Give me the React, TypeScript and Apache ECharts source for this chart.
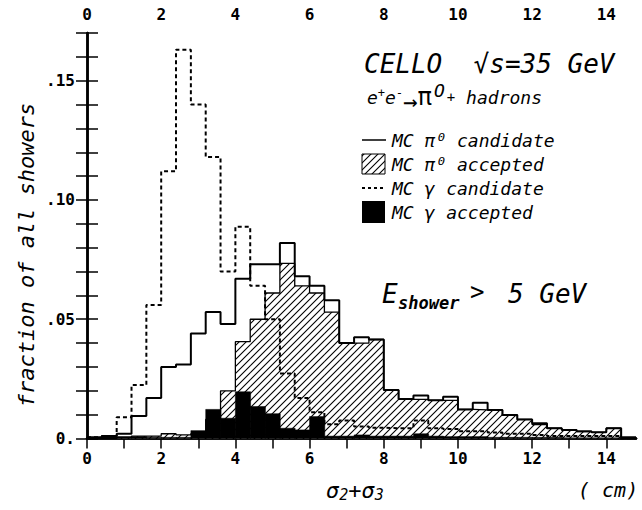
import React, { useEffect, useRef } from 'react';
import * as echarts from 'echarts';

// Bin edges (cm)
const binEdges = [0, 0.4, 0.8, 1.2, 1.6, 2.0, 2.4, 2.8, 3.2, 3.6, 4.0, 4.4, 4.8, 5.2, 5.6, 6.0, 6.4, 6.8, 7.2, 7.6, 8.0, 8.4, 8.8, 9.2, 9.6, 10.0, 10.4, 10.8, 11.2, 11.6, 12.0, 12.4, 12.8, 13.2, 13.6, 14.0, 14.4, 14.8];

// MC pi0 candidate (solid line)
const pi0Candidate = [0.0005, 0.001, 0.002, 0.0094, 0.017, 0.030, 0.031, 0.044, 0.053, 0.048, 0.067, 0.073, 0.073, 0.082, 0.068, 0.064, 0.058, 0.040, 0.0425, 0.0415, 0.0203, 0.0166, 0.018, 0.016, 0.0175, 0.0122, 0.015, 0.012, 0.0099, 0.008, 0.0064, 0.0043, 0.0036, 0.003, 0.0026, 0.0043, 0.0005];

// MC pi0 accepted (hatched)
const pi0Accepted = [0, 0, 0.0005, 0.001, 0.001, 0.002, 0.0015, 0.002, 0.008, 0.020, 0.0406, 0.050, 0.061, 0.0734, 0.064, 0.061, 0.053, 0.040, 0.040, 0.0415, 0.0203, 0.0164, 0.0164, 0.016, 0.016, 0.0122, 0.012, 0.012, 0.0099, 0.008, 0.0058, 0.0043, 0.0036, 0.0029, 0.0026, 0.0043, 0];

// MC gamma candidate (dashed line)
const gammaCandidate = [0.0005, 0.001, 0.0089, 0.0224, 0.056, 0.112, 0.163, 0.140, 0.118, 0.070, 0.0888, 0.064, 0.050, 0.0273, 0.017, 0.011, 0.006, 0.0075, 0.005, 0.0045, 0.0043, 0.0043, 0.0075, 0.0043, 0.004, 0.003, 0.003, 0.0025, 0.002, 0.002, 0.0015, 0.001, 0.001, 0.001, 0.001, 0.001, 0];

// MC gamma accepted (black)
const gammaAccepted = [0.0003, 0.0005, 0.0008, 0.0008, 0.0005, 0.0005, 0.0005, 0.0033, 0.0122, 0.0085, 0.0196, 0.0134, 0.0104, 0.0043, 0.0036, 0.0092, 0.001, 0.001, 0.0015, 0.001, 0.001, 0.001, 0.002, 0.001, 0.0008, 0.0008, 0.0008, 0.0005, 0.0005, 0.0005, 0.0005, 0.0005, 0.0003, 0.0003, 0.0003, 0.0003, 0];

const xTickLabels = ['0', '2', '4', '6', '8', '10', '12', '14'];
const yTickLabels = ['0.', '.05', '.10', '.15'];

const MONO = '"DejaVu Sans Mono", monospace';

function stepPoints(values: number[]) {
  const pts: number[][] = values.map((v, i) => [binEdges[i], v]);
  pts.push([binEdges[values.length], values[values.length - 1]]);
  return pts;
}

function binData(values: number[]) {
  return values.map((v, i) => [binEdges[i], binEdges[i + 1], v]);
}

export default function App() {
  const ref = useRef<HTMLDivElement>(null);
  useEffect(() => {
    document.body.style.margin = '0';
    if (!ref.current) return;
    const chart = echarts.init(ref.current, null, { renderer: 'svg' });

    const c = document.createElement('canvas');
    c.width = 7;
    c.height = 7;
    const ctx = c.getContext('2d')!;
    ctx.fillStyle = '#fff';
    ctx.fillRect(0, 0, 7, 7);
    ctx.strokeStyle = '#000';
    ctx.lineWidth = 1.1;
    ctx.beginPath();
    ctx.moveTo(-1, 8); ctx.lineTo(8, -1);
    ctx.moveTo(-1, 1); ctx.lineTo(1, -1);
    ctx.moveTo(6, 8); ctx.lineTo(8, 6);
    ctx.stroke();
    const hatch: any = { image: c.toDataURL(), repeat: 'repeat', imageWidth: 7, imageHeight: 7 };

    const xFmt = (v: number) => {
      const r = Math.round(v);
      if (Math.abs(v - r) > 1e-6 || r % 2 !== 0) return '';
      return xTickLabels[r / 2] ?? '';
    };
    const yFmt = (v: number) => {
      const r = Math.round(v * 100);
      if (r % 5 !== 0) return '';
      return yTickLabels[r / 5] ?? '';
    };

    const labelStyle = { color: '#000', fontFamily: MONO, fontSize: 16, fontWeight: 'bold' };
    const axisLine = { show: true, lineStyle: { color: '#000', width: 2.5 } };

    const rectRender = (fill: any, stroke: boolean) => (params: any, api: any) => {
      const p0 = api.coord([api.value(0), api.value(2)]);
      const p1 = api.coord([api.value(1), 0]);
      return {
        type: 'rect',
        shape: { x: p0[0], y: p0[1], width: p1[0] - p0[0] + 0.4, height: p1[1] - p0[1] },
        style: stroke ? { fill, stroke: '#000', lineWidth: 0.5 } : { fill },
      };
    };

    const textStyle = (extra: any) => ({
      fill: '#000',
      fontFamily: MONO,
      fontStyle: 'italic',
      verticalAlign: 'middle',
      ...extra,
    });

    chart.setOption({
      animation: false,
      backgroundColor: '#fff',
      grid: { left: 87, top: 33, right: 6, bottom: 71.5, containLabel: false },
      xAxis: [
        {
          type: 'value', position: 'bottom', min: 0, max: 14.8, interval: 2,
          axisLine, axisTick: { show: false }, splitLine: { show: false },
          axisLabel: { ...labelStyle, formatter: xFmt, margin: 12, showMaxLabel: false },
        },
        {
          type: 'value', position: 'top', min: 0, max: 14.8, interval: 1,
          axisLine, splitLine: { show: false },
          axisTick: { show: true, inside: true, length: 10, lineStyle: { color: '#000', width: 1.5 } },
          axisLabel: { ...labelStyle, formatter: xFmt, margin: 11, showMaxLabel: false },
        },
      ],
      yAxis: [
        {
          type: 'value', position: 'left', min: 0, max: 0.17, interval: 0.01,
          axisLine, splitLine: { show: false },
          axisTick: { show: true, inside: true, length: 11, lineStyle: { color: '#000', width: 1.5 } },
          axisLabel: { ...labelStyle, formatter: yFmt, margin: 12 },
        },
        {
          type: 'value', position: 'right', min: 0, max: 0.17, interval: 0.01,
          axisLine, splitLine: { show: false },
          axisTick: { show: true, inside: true, length: 11, lineStyle: { color: '#000', width: 1.5 } },
          axisLabel: { show: false },
        },
      ],
      series: [
        {
          type: 'custom', name: 'MC pi0 accepted', xAxisIndex: 0, yAxisIndex: 0, z: 1,
          data: binData(pi0Accepted), encode: { x: [0, 1], y: 2 },
          renderItem: rectRender(hatch, false),
        },
        {
          type: 'line', name: 'pi0 accepted outline', step: 'end', symbol: 'none', z: 2,
          data: stepPoints(pi0Accepted),
          lineStyle: { color: '#000', width: 1.3 },
        },
        {
          type: 'custom', name: 'MC gamma accepted', xAxisIndex: 0, yAxisIndex: 0, z: 3,
          data: binData(gammaAccepted), encode: { x: [0, 1], y: 2 },
          renderItem: rectRender('#000', true),
        },
        {
          type: 'line', name: 'MC pi0 candidate', step: 'end', symbol: 'none', z: 4,
          data: stepPoints(pi0Candidate),
          lineStyle: { color: '#000', width: 2 },
        },
        {
          type: 'line', name: 'MC gamma candidate', step: 'end', symbol: 'none', z: 5,
          data: stepPoints(gammaCandidate),
          lineStyle: { color: '#000', width: 2, type: [4, 3] },
        },
      ],
      graphic: [
        {
          type: 'text', x: 26, y: 255, rotation: Math.PI / 2,
          style: textStyle({ text: 'fraction of all showers', fontSize: 22, align: 'center' }),
        },
        {
          type: 'text', x: 364, y: 64,
          style: textStyle({ text: 'CELLO  √s=35 GeV', fontSize: 26, align: 'left' }),
        },
        {
          type: 'text', x: 367, y: 97,
          style: textStyle({
            text: 'e{sup|+}e{sup|-}{arr|→}{pi|π}{o|O}{p|+} hadrons',
            fontSize: 18, align: 'left',
            rich: {
              sup: { fontSize: 12, fontFamily: MONO, fontStyle: 'italic', padding: [0, 0, 9, 0] },
              arr: { fontSize: 24, fontFamily: MONO, padding: [10, 0, 0, 0] },
              pi: { fontSize: 24, fontFamily: MONO },
              o: { fontSize: 18, fontFamily: MONO, fontStyle: 'italic', padding: [0, 2, 14, 2] },
              p: { fontSize: 14, fontFamily: MONO },
            },
          }),
        },
        // legend
        { type: 'line', shape: { x1: 362, y1: 140, x2: 386, y2: 140 }, style: { stroke: '#000', lineWidth: 1.5 } },
        { type: 'text', x: 392, y: 140, style: textStyle({ text: 'MC π⁰ candidate', fontSize: 18, align: 'left' }) },
        { type: 'rect', shape: { x: 362, y: 154, width: 23, height: 20 }, style: { fill: hatch, stroke: '#000', lineWidth: 1 } },
        { type: 'text', x: 392, y: 164, style: textStyle({ text: 'MC π⁰ accepted', fontSize: 18, align: 'left' }) },
        { type: 'line', shape: { x1: 362, y1: 188, x2: 386, y2: 188 }, style: { stroke: '#000', lineWidth: 2, lineDash: [3, 3] } },
        { type: 'text', x: 392, y: 188, style: textStyle({ text: 'MC γ candidate', fontSize: 18, align: 'left' }) },
        { type: 'rect', shape: { x: 362, y: 201, width: 23, height: 22 }, style: { fill: '#000' } },
        { type: 'text', x: 392, y: 212, style: textStyle({ text: 'MC γ accepted', fontSize: 18, align: 'left' }) },
        // E shower
        { type: 'text', x: 382, y: 294, style: textStyle({ text: 'E', fontSize: 26, align: 'left' }) },
        { type: 'text', x: 398, y: 303, style: textStyle({ text: 'shower', fontSize: 17, align: 'left', fontWeight: 'bold' }) },
        { type: 'text', x: 470, y: 292, style: textStyle({ text: '>', fontSize: 24, align: 'left', fontStyle: 'normal' }) },
        { type: 'text', x: 508, y: 294, style: textStyle({ text: '5 GeV', fontSize: 26, align: 'left' }) },
        // x axis title
        {
          type: 'text', x: 326, y: 490,
          style: textStyle({
            text: 'σ{sub|2}+σ{sub|3}', fontSize: 22, align: 'left',
            rich: { sub: { fontSize: 15, fontFamily: MONO, fontStyle: 'italic', padding: [10, 0, 0, 0] } },
          }),
        },
        { type: 'text', x: 578, y: 490, style: textStyle({ text: '( cm)', fontSize: 20, align: 'left' }) },
      ],
    });
    return () => chart.dispose();
  }, []);
  return <div ref={ref} style={{ width: 642, height: 510 }} />;
}
